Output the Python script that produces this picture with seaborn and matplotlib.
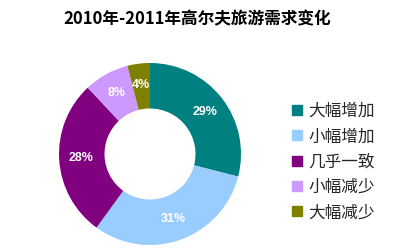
import matplotlib
matplotlib.use("Agg")
import matplotlib.pyplot as plt
import seaborn as sns
from matplotlib.lines import Line2D

categories = ["大幅增加", "小幅增加", "几乎一致", "小幅减少", "大幅减少"]
values = [29, 31, 28, 8, 4]
colors = ["#008080", "#99CCFF", "#800080", "#CC99FF", "#808000"]
title = "2010年-2011年高尔夫旅游需求变化"

sns.set_theme(style="white")
plt.rcParams['font.family'] = ['Noto Sans CJK SC', 'DejaVu Sans']

fig = plt.figure(figsize=(3.95, 2.52), dpi=100)
ax = fig.add_axes([59/395, 7/252, 182/395, 182/252])

wedges, texts, autotexts = ax.pie(
    values, colors=colors, startangle=90, counterclock=False,
    autopct=lambda p: f"{p:.0f}%", pctdistance=0.76,
    wedgeprops=dict(width=0.5, linewidth=0),
    textprops=dict(color="white", fontsize=9, fontweight="bold",
                   family=["Liberation Sans", "DejaVu Sans"]),
)
ax.set_xlim(-1, 1)
ax.set_ylim(-1, 1)
ax.set_aspect("equal")

fig.text(197/395, 1 - 19/252, title, ha="center", va="center",
         fontsize=12, fontweight="bold", color="black")

handles = [Line2D([0], [0], marker="s", linestyle="none", markersize=7.5,
                  markerfacecolor=c, markeredgecolor=c) for c in colors]
fig.legend(handles, categories, loc="upper left",
           bbox_to_anchor=(291/395, 1 - 103/252), frameon=False,
           fontsize=12, handlelength=0.7, handletextpad=0.35,
           labelspacing=0.5, borderaxespad=0, borderpad=0)

fig.savefig("out.png", dpi=100)
